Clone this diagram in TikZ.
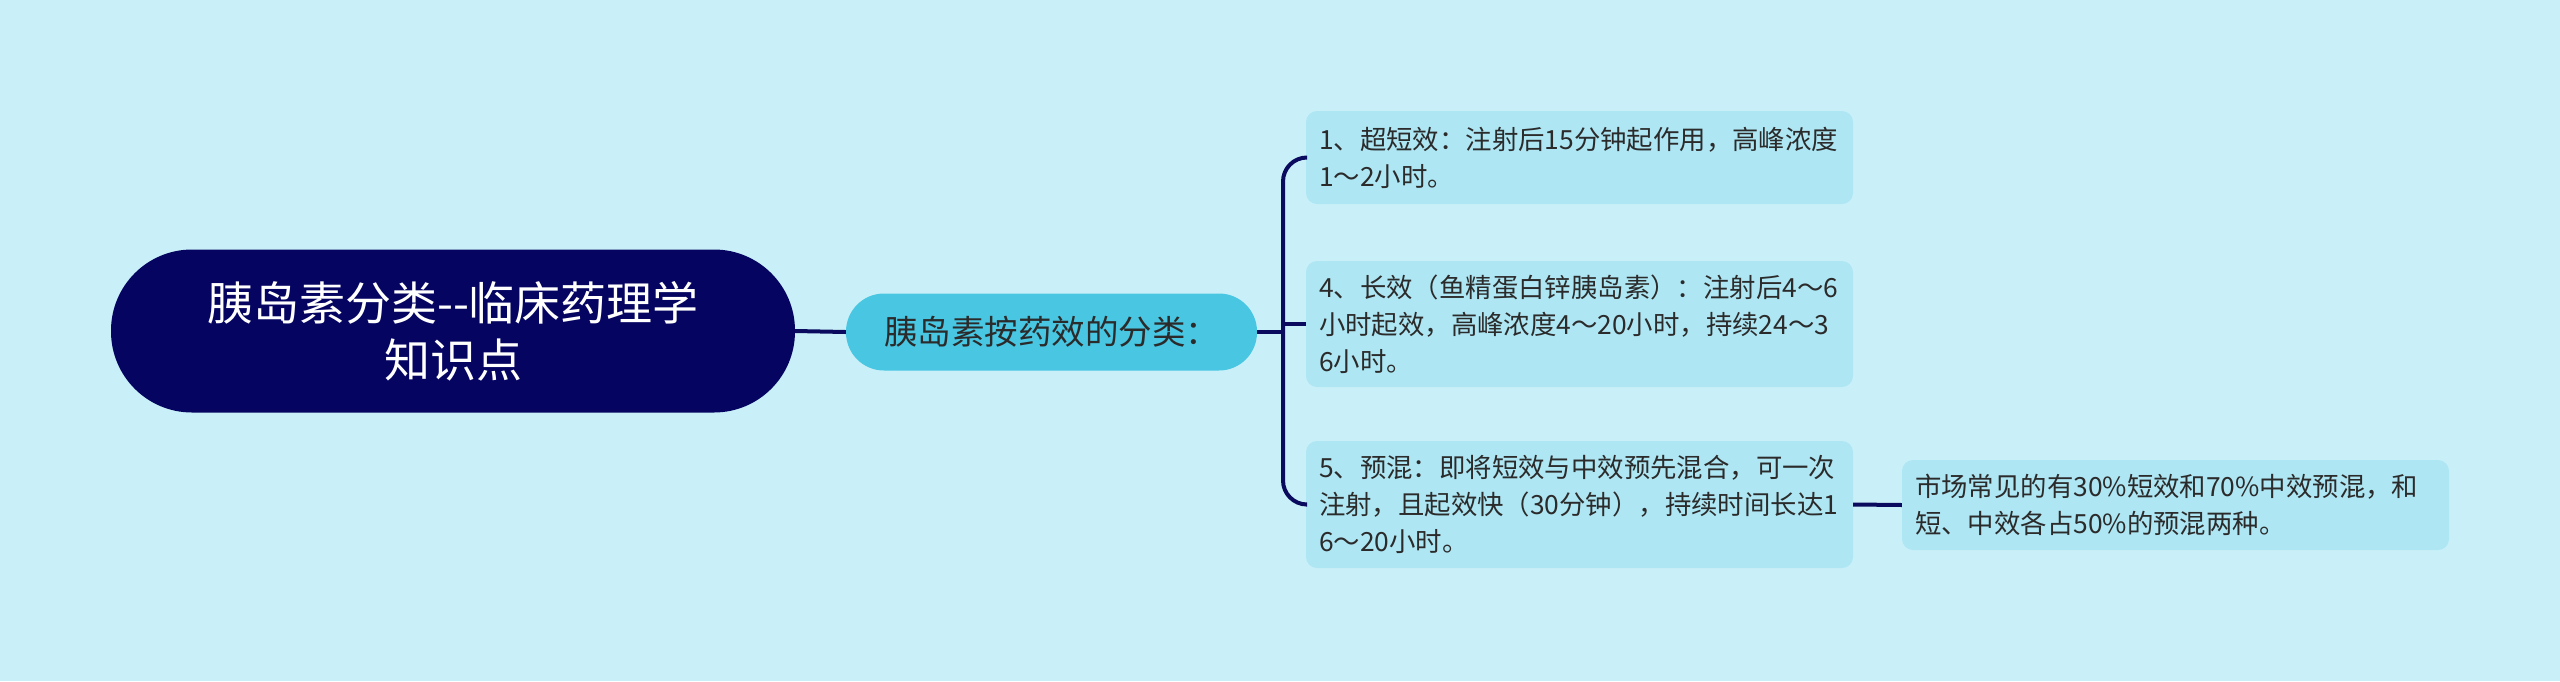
\documentclass[tikz,border=0pt]{standalone}
\usepackage{fontspec}
\setmainfont{Noto Sans CJK SC}
\definecolor{bg}{HTML}{C9F0F8}
\definecolor{rootfill}{HTML}{050561}
\definecolor{midfill}{HTML}{48C6E2}
\definecolor{leaffill}{HTML}{AEE6F3}
\definecolor{linec}{HTML}{0A0A5E}
\definecolor{txt}{HTML}{2B2B2B}
\tikzset{
  rootbox/.style={fill=rootfill, rounded corners=81pt, minimum width=684pt, minimum height=163pt,
    text=white, align=center, font=\fontsize{46}{57}\selectfont, inner sep=0pt},
  midbox/.style={fill=midfill, rounded corners=38pt, minimum width=411pt, minimum height=77pt,
    text=txt, font=\fontsize{33.5}{40}\selectfont, inner sep=0pt},
  leafbox/.style={fill=leaffill, rounded corners=11pt, minimum width=547pt,
    text=txt, text width=521pt, align=left, inner xsep=13pt, inner ysep=0pt,
    font=\fontsize{26.4}{37}\selectfont},
  conn/.style={draw=linec, line width=4pt},
}
\begin{document}
\begin{tikzpicture}[x=1pt,y=-1pt]
\fill[bg] (0,0) rectangle (2560,681);
\useasboundingbox (0,0) rectangle (2560,681);
\node[rootbox] (root) at (453,331) {胰岛素分类{-}{-}临床药理学\\知识点};
\node[midbox] (mid) at (1051.5,332) {胰岛素按药效的分类：};
\node[leafbox, minimum height=93pt] (c1) at (1579.5,157.5) {1、超短效：注射后15分钟起作用，高峰浓度\\1～2小时。};
\node[leafbox, minimum height=126pt] (c2) at (1579.5,324) {4、长效（鱼精蛋白锌胰岛素）：注射后4～6\\小时起效，高峰浓度4～20小时，持续24～3\\6小时。};
\node[leafbox, minimum height=127pt] (c3) at (1579.5,504.5) {5、预混：即将短效与中效预先混合，可一次\\注射，且起效快（30分钟），持续时间长达1\\6～20小时。};
\node[leafbox, minimum height=90pt] (g1) at (2175.5,505) {市场常见的有30\%短效和70\%中效预混，和\\短、中效各占50\%的预混两种。};
\coordinate (j) at (1283,332);
\draw[conn] (root.east) -- (mid.west);
\draw[conn] (mid.east) -- (j);
\draw[conn, rounded corners=24pt] (j) |- (c1.west);
\draw[conn] (j) -- (j |- c2.west) -- (c2.west);
\draw[conn, rounded corners=24pt] (j) |- (c3.west);
\draw[conn] (c3.east) -- (g1.west);
\end{tikzpicture}
\end{document}
